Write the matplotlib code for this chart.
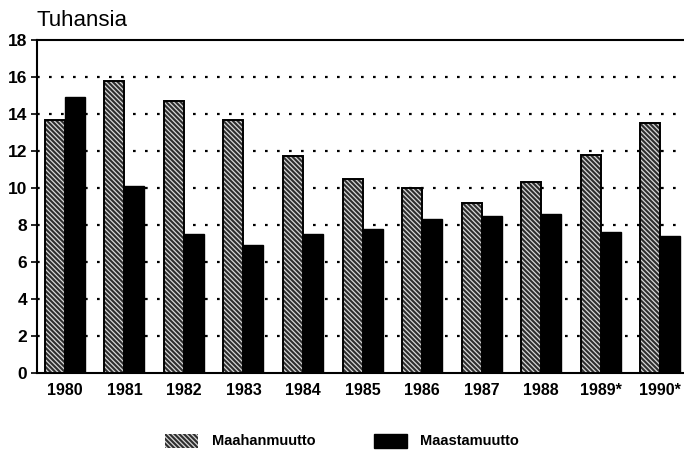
import matplotlib
matplotlib.use("Agg")
import matplotlib.pyplot as plt
import numpy as np
from matplotlib.patches import Patch

years = ["1980", "1981", "1982", "1983", "1984", "1985", "1986", "1987", "1988", "1989*", "1990*"]
maahanmuutto = [13.7, 15.8, 14.7, 13.7, 11.75, 10.5, 10.0, 9.2, 10.3, 11.8, 13.5]
maastamuutto = [14.9, 10.1, 7.5, 6.9, 7.5, 7.8, 8.3, 8.5, 8.6, 7.6, 7.4]
yticks = [0, 2, 4, 6, 8, 10, 12, 14, 16, 18]

plt.rcParams['font.family'] = ['Liberation Sans', 'DejaVu Sans']
plt.rcParams['hatch.linewidth'] = 0.9

fig = plt.figure(figsize=(6.84, 4.57), dpi=100)
ax = fig.add_axes([0.054, 0.184, 0.946, 0.7285])

x = np.arange(len(years))
w = 0.336
hatch_face = '#2e2e2e'
hatch_pat = '\\\\\\\\\\\\\\'
ax.bar(x - w/2, maahanmuutto, w, color=hatch_face, hatch=hatch_pat, edgecolor='#d8d8d8', linewidth=0, zorder=3)
ax.bar(x - w/2, maahanmuutto, w, facecolor='none', edgecolor='black', linewidth=1.4, zorder=4)
ax.bar(x + w/2, maastamuutto, w, color='black', edgecolor='black', linewidth=1.0, zorder=3)

ax.set_xlim(-0.47, 10.40)
ax.set_ylim(0, 18)
ax.set_yticks(yticks)
ax.set_yticklabels([str(v) for v in yticks], fontsize=12.5, fontweight='bold')
ax.set_xticks(x)
ax.set_xticklabels(years, fontsize=11.5, fontweight='bold')
ax.tick_params(axis='x', length=0, pad=7)
ax.tick_params(axis='y', length=4, width=1.2, direction='out', pad=3)

for v in yticks[1:-1]:
    ax.axhline(v, color='black', linestyle=(0, (1.2, 4.2)), linewidth=1.6, zorder=1)

ax.spines['right'].set_visible(False)
for s in ['left', 'top', 'bottom']:
    ax.spines[s].set_linewidth(1.5)

fig.text(0.054, 0.955, "Tuhansia", fontsize=16, ha='left', va='center')

handles = [
    Patch(facecolor=hatch_face, hatch=hatch_pat, edgecolor='#d8d8d8', linewidth=0),
    Patch(facecolor='black', edgecolor='black'),
]
fig.legend(handles, ["Maahanmuutto", "Maastamuutto"], loc='center', bbox_to_anchor=(0.5, 0.035),
           ncol=2, frameon=False, prop={'size': 10.5, 'weight': 'bold'}, handlelength=2.3, handleheight=1.1,
           columnspacing=4.0, handletextpad=0.9)

fig.savefig("out.png", dpi=100)
